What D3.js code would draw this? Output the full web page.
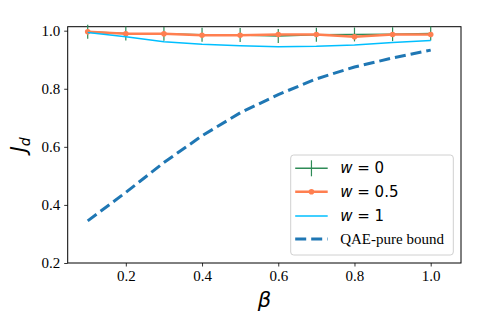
<!DOCTYPE html>
<html>
<head>
<meta charset="utf-8">
<script src="https://cdn.jsdelivr.net/npm/d3@7"></script>
<style>
  body { margin: 0; background: white; }
  svg { display: block; }
</style>
</head>
<body>
<div id="chart"></div>
<script>
//Data
let beta = [0.1, 0.2, 0.3, 0.4, 0.5, 0.6, 0.7, 0.8, 0.9, 1.0];
let w0 = [0.996, 0.990, 0.989, 0.986, 0.985, 0.982, 0.986, 0.987, 0.988, 0.990];
let w0err = [0.024, 0.024, 0.024, 0.024, 0.024, 0.024, 0.024, 0.024, 0.024, 0.024];
let w05 = [0.996, 0.989, 0.989, 0.984, 0.984, 0.987, 0.987, 0.979, 0.987, 0.987];
let w1 = [0.994, 0.979, 0.962, 0.953, 0.948, 0.945, 0.946, 0.951, 0.959, 0.966];
let bound = [0.345, 0.443, 0.546, 0.638, 0.717, 0.780, 0.834, 0.875, 0.906, 0.933];
let xTicks = [0.2, 0.4, 0.6, 0.8, 1.0];
let yTicks = [0.2, 0.4, 0.6, 0.8, 1.0];
let legendLabels = ["w = 0", "w = 0.5", "w = 1", "QAE-pure bound"];

//Sizes
let width = 480, height = 320;
let margin = { top: 26.7, right: 19, bottom: 57, left: 67.7 };

let svg = d3.select("#chart").append("svg")
  .attr("width", width)
  .attr("height", height);

let x = d3.scaleLinear().domain([0.0475, 1.0795]).range([margin.left, width - margin.right]);
let y = d3.scaleLinear().domain([0.2, 1.0137]).range([height - margin.bottom, margin.top]);

//Axes
let xAxis = svg.append("g")
  .attr("transform", "translate(0," + (height - margin.bottom) + ")")
  .call(d3.axisBottom(x).tickValues(xTicks).tickFormat(d3.format(".1f")).tickSize(3.5).tickPadding(4));
let yAxis = svg.append("g")
  .attr("transform", "translate(" + margin.left + ",0)")
  .call(d3.axisLeft(y).tickValues(yTicks).tickFormat(d3.format(".1f")).tickSize(3.5).tickPadding(4));

[xAxis, yAxis].forEach(function (g) {
  g.select(".domain").remove();
  g.selectAll("line").attr("stroke", "black").attr("stroke-width", 0.8);
  g.selectAll("text")
    .attr("fill", "black")
    .style("font-family", "'Liberation Serif', 'Times New Roman', serif")
    .style("font-size", "15px");
});

//Frame
svg.append("rect")
  .attr("x", margin.left)
  .attr("y", margin.top)
  .attr("width", width - margin.left - margin.right)
  .attr("height", height - margin.top - margin.bottom)
  .attr("fill", "none")
  .attr("stroke", "black")
  .attr("stroke-width", 1);

let plot = svg.append("g");

let line = d3.line().x(function (d) { return x(d[0]); }).y(function (d) { return y(d[1]); });

//w = 0 with error bars
plot.selectAll(".err")
  .data(d3.zip(beta, w0, w0err))
  .enter().append("line")
  .attr("class", "err")
  .attr("x1", function (d) { return x(d[0]); })
  .attr("x2", function (d) { return x(d[0]); })
  .attr("y1", function (d) { return y(d[1] - d[2]); })
  .attr("y2", function (d) { return y(d[1] + d[2]); })
  .attr("stroke", "seagreen")
  .attr("stroke-width", 1.2);
plot.append("path")
  .attr("d", line(d3.zip(beta, w0)))
  .attr("fill", "none")
  .attr("stroke", "seagreen")
  .attr("stroke-width", 1.5);

//w = 0.5
plot.append("path")
  .attr("d", line(d3.zip(beta, w05)))
  .attr("fill", "none")
  .attr("stroke", "coral")
  .attr("stroke-width", 2.5);
plot.selectAll(".pt")
  .data(d3.zip(beta, w05))
  .enter().append("circle")
  .attr("class", "pt")
  .attr("cx", function (d) { return x(d[0]); })
  .attr("cy", function (d) { return y(d[1]); })
  .attr("r", 2.8)
  .attr("fill", "coral");

//w = 1
plot.append("path")
  .attr("d", line(d3.zip(beta, w1)))
  .attr("fill", "none")
  .attr("stroke", "deepskyblue")
  .attr("stroke-width", 1.5);

//QAE-pure bound
plot.append("path")
  .attr("d", line(d3.zip(beta, bound)))
  .attr("fill", "none")
  .attr("stroke", "#1f77b4")
  .attr("stroke-width", 3)
  .attr("stroke-dasharray", "11,5");

//Axis labels
svg.append("text")
  .attr("x", x(0.5635))
  .attr("y", 307)
  .attr("text-anchor", "middle")
  .style("font-family", "'DejaVu Sans', sans-serif")
  .style("font-style", "italic")
  .style("font-size", "21px")
  .text("β");

let ylab = svg.append("text")
  .attr("transform", "translate(26," + y(0.607) + ") rotate(-90)")
  .attr("text-anchor", "middle")
  .style("font-family", "'DejaVu Sans', sans-serif")
  .style("font-style", "italic")
  .style("font-size", "21px");
ylab.append("tspan").text("J");
ylab.append("tspan").attr("dy", 4).style("font-size", "14px").text("d");

//Legend
let lg = svg.append("g").attr("transform", "translate(290.7,155)");
lg.append("rect")
  .attr("width", 162.6)
  .attr("height", 100)
  .attr("rx", 3)
  .attr("fill", "white")
  .attr("fill-opacity", 0.8)
  .attr("stroke", "#d0d0d0")
  .attr("stroke-width", 1);

let rowY = [13.3, 36.7, 61, 84];
let hx1 = 4.5, hx2 = 37, tx = 49.5;

//w = 0 handle
lg.append("line").attr("x1", hx1).attr("x2", hx2).attr("y1", rowY[0]).attr("y2", rowY[0])
  .attr("stroke", "seagreen").attr("stroke-width", 1.5);
lg.append("line").attr("x1", (hx1 + hx2) / 2).attr("x2", (hx1 + hx2) / 2)
  .attr("y1", rowY[0] - 8).attr("y2", rowY[0] + 8)
  .attr("stroke", "seagreen").attr("stroke-width", 1.2);
//w = 0.5 handle
lg.append("line").attr("x1", hx1).attr("x2", hx2).attr("y1", rowY[1]).attr("y2", rowY[1])
  .attr("stroke", "coral").attr("stroke-width", 2.5);
lg.append("circle").attr("cx", (hx1 + hx2) / 2).attr("cy", rowY[1]).attr("r", 2.8).attr("fill", "coral");
//w = 1 handle
lg.append("line").attr("x1", hx1).attr("x2", hx2).attr("y1", rowY[2]).attr("y2", rowY[2])
  .attr("stroke", "deepskyblue").attr("stroke-width", 1.5);
//bound handle
lg.append("line").attr("x1", hx1).attr("x2", hx2).attr("y1", rowY[3]).attr("y2", rowY[3])
  .attr("stroke", "#1f77b4").attr("stroke-width", 3).attr("stroke-dasharray", "11,5");

legendLabels.forEach(function (lab, i) {
  let t = lg.append("text")
    .attr("x", tx)
    .attr("y", rowY[i] + 5)
    .attr("fill", "black");
  if (i < 3) {
    let parts = lab.split(" = ");
    t.style("font-family", "'DejaVu Sans', sans-serif").style("font-size", "15px");
    t.append("tspan").style("font-style", "italic").text(parts[0]);
    t.append("tspan").text(" = " + parts[1]);
  } else {
    t.style("font-family", "'Liberation Serif', 'Times New Roman', serif").style("font-size", "15px").text(lab);
  }
});
</script>
</body>
</html>
